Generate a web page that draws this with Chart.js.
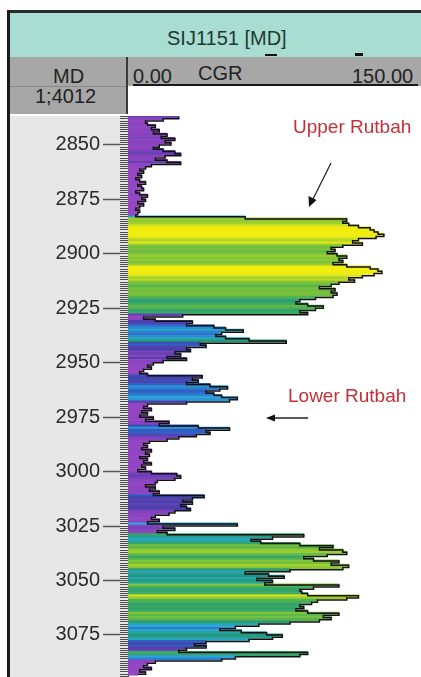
<!DOCTYPE html>
<html>
<head>
<meta charset="utf-8">
<script src="https://cdn.jsdelivr.net/npm/chart.js@4"></script>
<style>
  body { margin: 0; width: 421px; height: 677px; overflow: hidden; background: #fff;
         position: relative; font-family: "Liberation Sans", Arial, sans-serif; }
  .box { position: absolute; }
  .txt { position: absolute; white-space: nowrap; font-size: 20px; line-height: 20px; }
  #topline { left: 7px; top: 10px; width: 414px; height: 3px; background: #2a2a2a; }
  #leftline { left: 7px; top: 10px; width: 3px; height: 667px; background: #1c1c1c; }
  #wellHead { left: 10px; top: 13px; width: 411px; height: 44px; background: #a9ddd1; }
  #mdHead { left: 10px; top: 57px; width: 116px; height: 29px; background: #a7a7a7; }
  #cgrHead { left: 128px; top: 57px; width: 293px; height: 29px; background: #a7a7a7; }
  #colDiv { left: 126px; top: 57px; width: 2px; height: 57px; background: #3a3a3a; }
  #curveKey { left: 133px; top: 84px; width: 285px; height: 2px; background: #1a1a1a; }
  #scaleHead { left: 10px; top: 87px; width: 116px; height: 27px; background: #a7a7a7; }
  #rowLine { left: 10px; top: 86px; width: 116px; height: 1px; background: #8a8a8a; }
  .mark { background: #111; height: 2px; }
  .note { color: #c4303a; font-size: 19px; line-height: 19px; }
  #track { position: absolute; left: 10px; top: 116px; }
  #arrows { position: absolute; left: 0; top: 0; }
</style>
</head>
<body>
<div class="box" id="wellHead"></div>
<div class="box" id="mdHead"></div>
<div class="box" id="cgrHead"></div>
<div class="box" id="rowLine"></div>
<div class="box" id="scaleHead"></div>
<div class="box" id="colDiv"></div>
<div class="box" id="curveKey"></div>
<div class="box" id="topline"></div>
<div class="box" id="leftline"></div>
<div class="box mark" style="left:265px; top:54px; width:12px;"></div>
<div class="box mark" style="left:355px; top:53px; width:8px; height:3px;"></div>

<div class="txt" style="left:167px; top:28px; color:#1d3a32;">SIJ1151 [MD]</div>
<div class="txt" style="left:53px; top:66px; color:#222;">MD</div>
<div class="txt" style="left:133px; top:66px; color:#222;">0.00</div>
<div class="txt" style="left:198px; top:63px; color:#222;">CGR</div>
<div class="txt" style="left:352px; top:66px; color:#222;">150.00</div>
<div class="txt" style="left:35px; top:86px; color:#222;">1;4012</div>

<canvas id="track" width="411" height="561"></canvas>

<div class="txt note" style="left:293px; top:117px;">Upper Rutbah</div>
<div class="txt note" style="left:288px; top:386px;">Lower Rutbah</div>
<svg id="arrows" width="421" height="677">
  <line x1="331" y1="163" x2="313" y2="199" stroke="#222" stroke-width="1.3"/>
  <polygon points="309,207 308.5,196 316.5,200" fill="#111"/>
  <line x1="308" y1="418" x2="274" y2="418" stroke="#222" stroke-width="1.3"/>
  <polygon points="266,418 275,414.5 275,421.5" fill="#111"/>
</svg>

<script>
// CGR log sampled every metre, starting at topDepth
const topDepth = 2837;
const cgrAbove = [
  26, 18, 9, 10, 14, 12, 16, 13, 20, 17, 24, 19, 22, 16, 13, 18, 24, 27, 19, 14, 20, 27, 12, 9,
  6, 8, 5, 7, 4, 6, 9, 5, 7, 8, 4, 6, 10, 7, 9, 5, 8, 6, 4, 6, 5, 4
];
const cgrUpperRutbah = [
  60, 112, 110, 113, 118, 124, 126, 128, 131, 127,
  118, 115, 120, 110, 104, 106, 102, 107, 112, 108,
  110, 105, 112, 124, 128, 130, 126, 120, 113, 116,
  108, 104, 98, 106, 104, 107, 105, 96, 88, 86,
  92, 100, 96, 88, 92
];
const cgrLowerRutbah = [
  28, 8, 14, 33, 30, 44, 50, 59, 48, 45,
  50, 62, 81, 37, 40, 30, 32, 24, 27, 20,
  30, 18, 13, 10, 12, 8, 6, 10, 38, 33,
  36, 30, 42, 51, 47, 40, 44, 48, 56, 52,
  30, 10, 8, 12, 7, 10, 6, 13, 9, 21,
  16, 36, 52, 40, 42, 35, 26, 20, 11, 8,
  10, 7, 12, 9, 11, 6, 10, 8, 12, 7,
  9, 5, 12, 25, 27, 24, 15, 14, 9, 14,
  11, 16, 13, 39, 33, 28, 33, 27, 30, 32,
  24, 21, 14, 12, 16, 10, 56, 18, 24, 15,
  20, 90, 74, 63, 68, 88, 105, 98, 110, 112,
  102, 90, 95, 108, 104, 113, 110, 83, 60, 72,
  80, 66, 74, 70, 108, 95, 88, 89, 92, 118,
  112, 97, 94, 88, 90, 86, 92, 108, 100, 104,
  98, 83, 67, 55, 47, 58, 71, 79, 74, 62,
  40, 34, 40, 30, 26, 92, 88, 55, 48, 14,
  10, 8, 12, 6, 9, 5
];
const depthTicks = [2850, 2875, 2900, 2925, 2950, 2975, 3000, 3025, 3050, 3075];

const cgr = cgrAbove.concat(cgrUpperRutbah, cgrLowerRutbah);
const points = cgr.map((v, i) => ({ x: v, y: topDepth + i }));

// fill colour table: purple (low) -> blue -> teal -> green -> yellow (high)
const colorStops = [
  [0, [156, 72, 198]], [22, [134, 66, 190]], [32, [70, 64, 170]], [42, [46, 98, 198]],
  [55, [42, 166, 220]], [68, [38, 166, 168]], [80, [36, 150, 120]], [92, [58, 170, 100]],
  [100, [96, 184, 72]], [108, [128, 196, 56]], [114, [170, 210, 44]], [122, [238, 236, 18]],
  [150, [248, 238, 0]]
];
function cgrColor(v) {
  for (let i = 1; i < colorStops.length; i++) {
    const [v1, c1] = colorStops[i];
    if (v <= v1) {
      const [v0, c0] = colorStops[i - 1];
      const t = (v - v0) / (v1 - v0);
      const c = c0.map((a, k) => Math.round(a + (c1[k] - a) * t));
      return `rgb(${c[0]},${c[1]},${c[2]})`;
    }
  }
  return 'rgb(248,238,0)';
}

const panelBg = {
  id: 'panelBg',
  beforeDraw(chart) {
    const { ctx, chartArea } = chart;
    ctx.save();
    ctx.fillStyle = '#e7e7e7';
    ctx.fillRect(0, 0, chartArea.left, chart.height);
    ctx.restore();
  }
};

function fixWidth(w) {
  return (scale) => {
    scale.width = w;
    scale.paddingTop = 0;
    scale.paddingBottom = 0;
  };
}

new Chart(document.getElementById('track'), {
  type: 'bar',
  data: {
    datasets: [
      {
        type: 'line',
        data: points,
        yAxisID: 'y',
        borderColor: '#111',
        borderWidth: 1.5,
        pointRadius: 0,
        stepped: 'after',
        fill: false,
        order: 1
      },
      {
        data: points,
        yAxisID: 'y',
        backgroundColor: (c) => cgrColor(c.raw ? c.raw.x : 0),
        borderWidth: 0,
        barPercentage: 1,
        categoryPercentage: 1,
        order: 2
      }
    ]
  },
  options: {
    indexAxis: 'y',
    responsive: false,
    animation: false,
    events: [],
    layout: { padding: 0 },
    plugins: { legend: { display: false }, tooltip: { enabled: false } },
    scales: {
      x: { type: 'linear', min: 0, max: 150, display: false },
      y: {
        type: 'linear',
        position: 'left',
        reverse: true,
        min: 2836.7,
        max: 3094.3,
        offset: false,
        weight: 1,
        afterBuildTicks: (s) => { s.ticks = depthTicks.map(v => ({ value: v })); },
        afterFit: fixWidth(110),
        ticks: {
          autoSkip: false,
          padding: 3,
          color: '#2a2a2a',
          font: { family: 'Liberation Sans', size: 20 },
          callback: (v) => String(v)
        },
        grid: { offset: false, drawOnChartArea: false, tickLength: 17, tickWidth: 1.5, tickColor: '#555' },
        border: { display: false }
      },
      yMinor: {
        axis: 'y',
        type: 'linear',
        position: 'left',
        reverse: true,
        min: 2836.7,
        max: 3094.3,
        offset: false,
        weight: 0,
        afterFit: fixWidth(8),
        ticks: { display: false, stepSize: 1, includeBounds: false },
        grid: { offset: false, drawOnChartArea: false, tickLength: 8, tickWidth: 1, tickColor: '#4a4a4a' },
        border: { display: true, color: '#444', width: 1 }
      }
    }
  },
  plugins: [panelBg]
});
</script>
</body>
</html>
